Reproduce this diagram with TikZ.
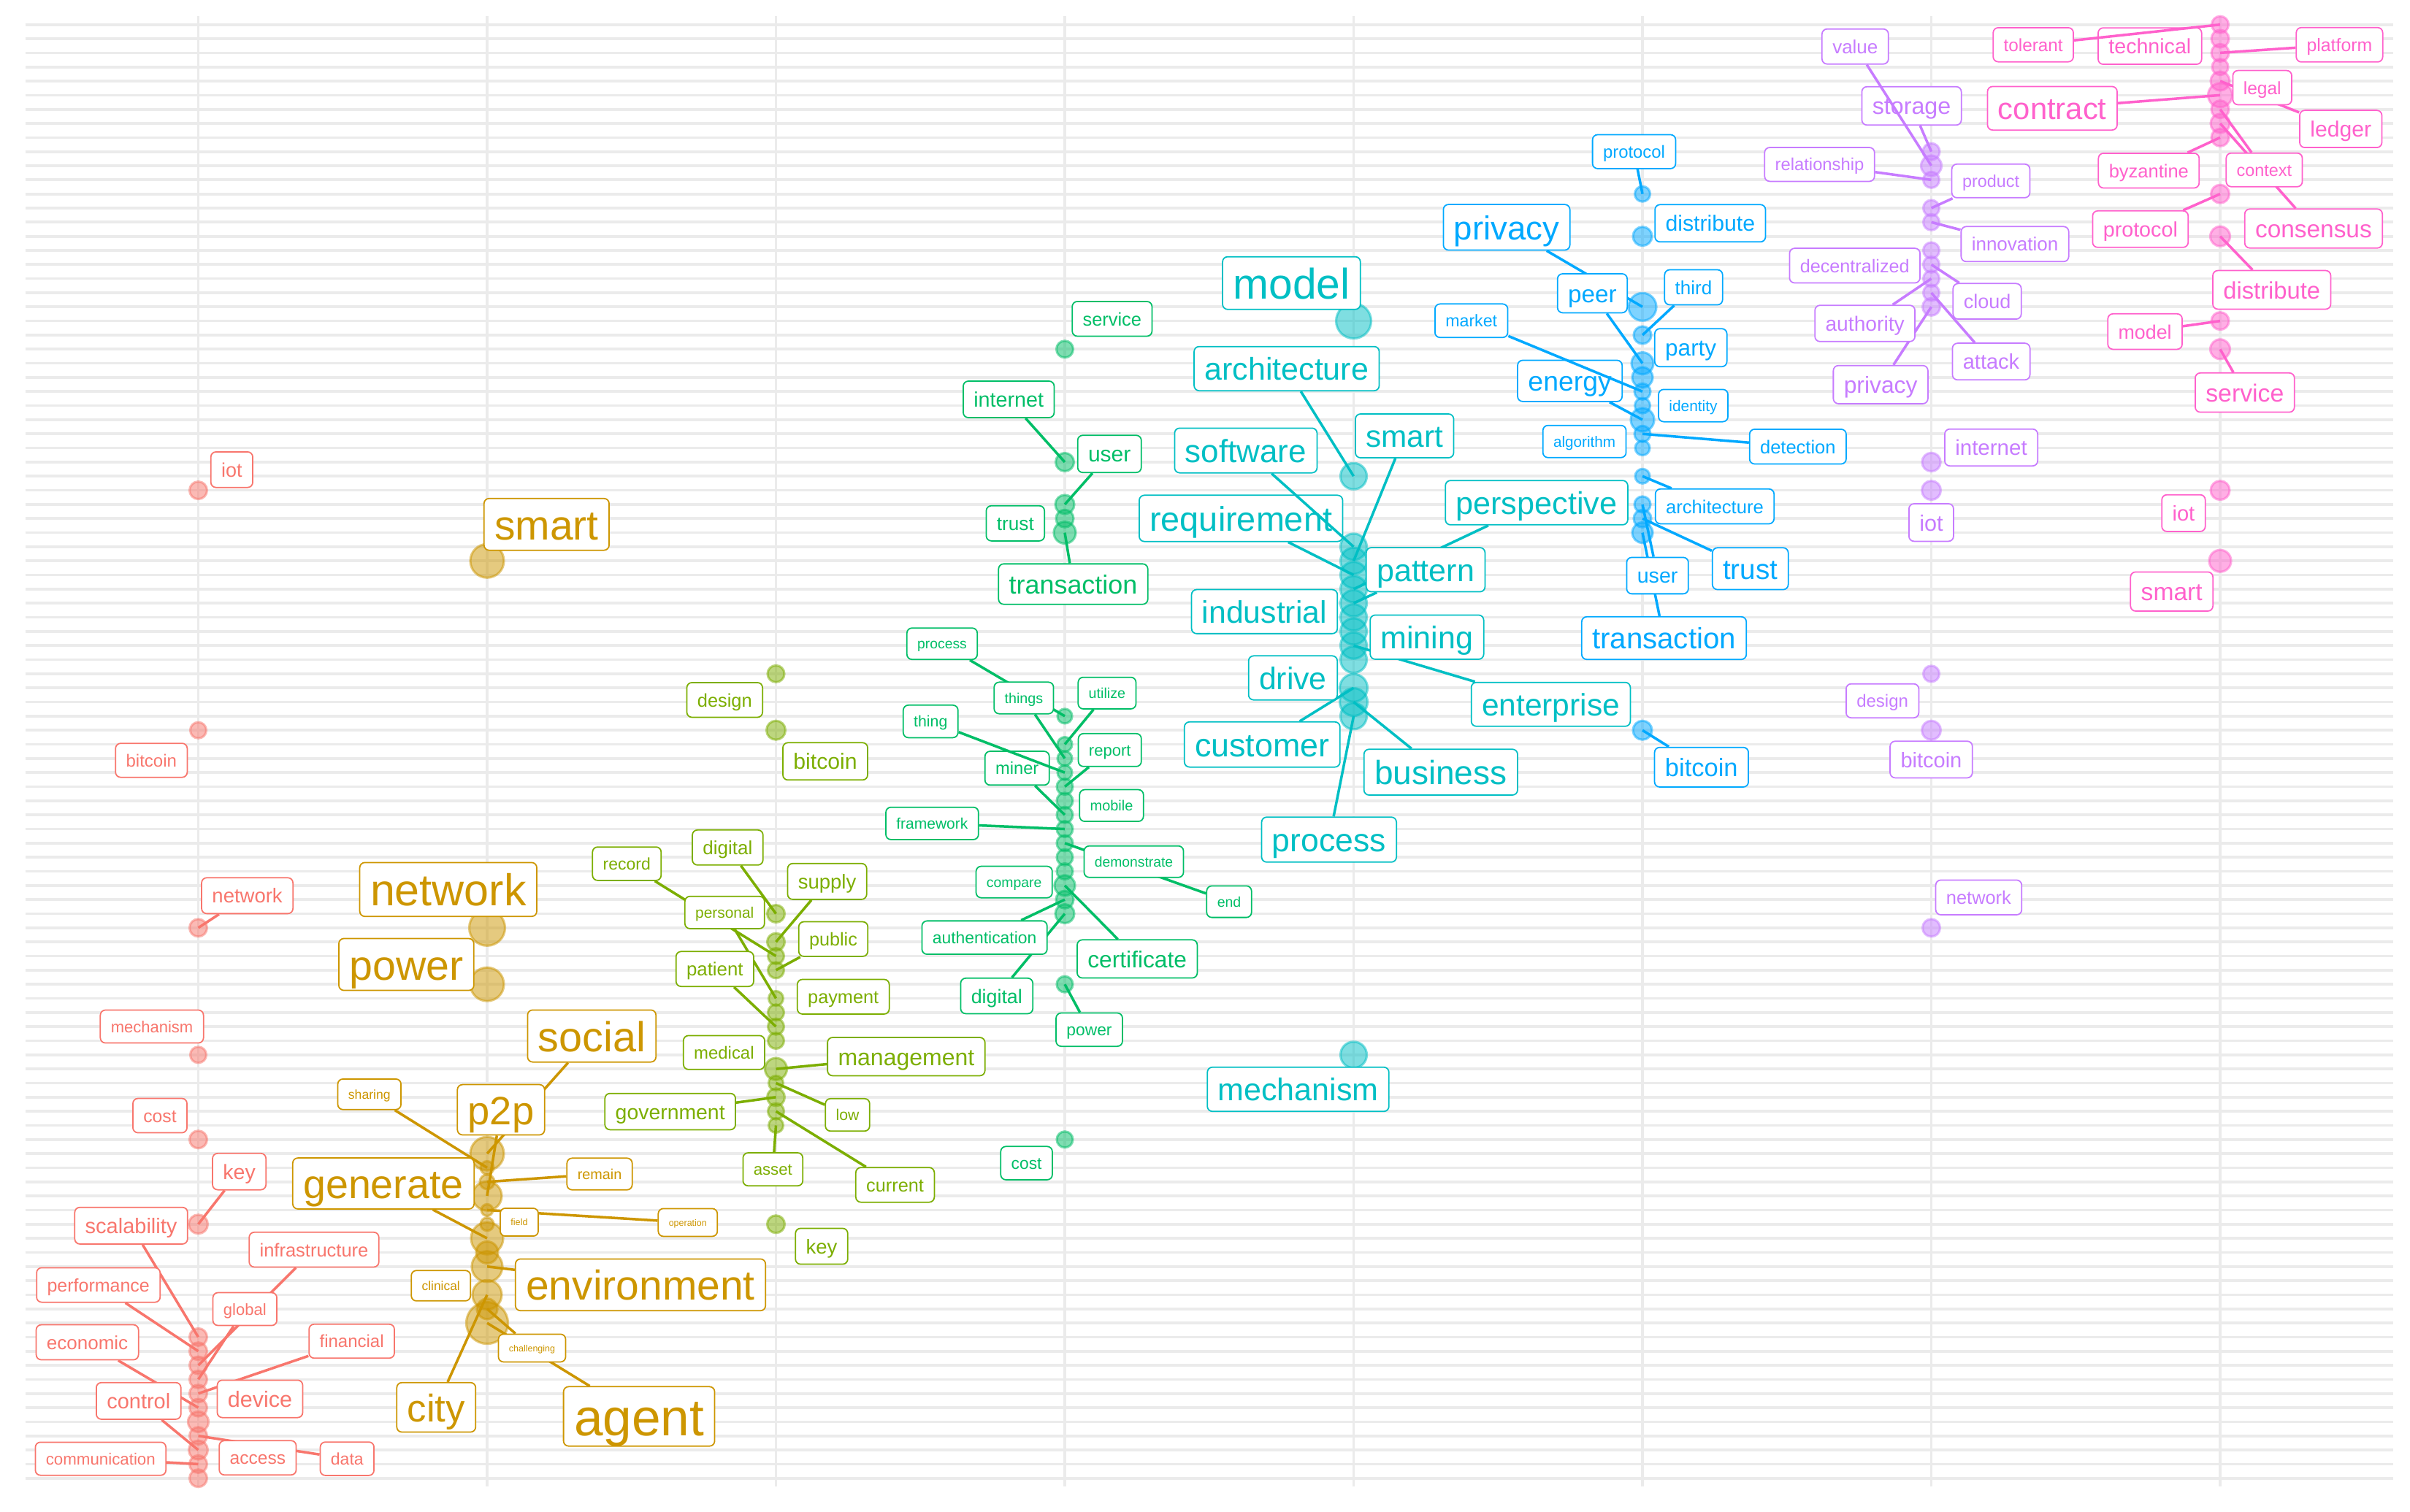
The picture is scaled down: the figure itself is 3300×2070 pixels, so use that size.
\documentclass[tikz,border=0pt]{standalone}
\usepackage{fontspec}
\setmainfont{Liberation Sans}

\definecolor{tRed}{HTML}{F8766D}
\definecolor{tGold}{HTML}{CD9600}
\definecolor{tOlive}{HTML}{7CAE00}
\definecolor{tGreen}{HTML}{00BE67}
\definecolor{tCyan}{HTML}{00BFC4}
\definecolor{tBlue}{HTML}{00A9FF}
\definecolor{tPurple}{HTML}{C77CFF}
\definecolor{tPink}{HTML}{FF61CC}
\definecolor{gridgray}{HTML}{EBEBEB}

\pgfdeclarelayer{background}
\pgfdeclarelayer{dots}
\pgfdeclarelayer{links}
\pgfsetlayers{background,dots,links,main}

% y position of rank k
\newcommand{\ky}[1]{33.7+19.33*#1}

\tikzset{
  gridline/.style={draw=gridgray, line width=1.05pt},
  ptdot/.style 2 args={circle, inner sep=0pt, minimum size=#2*0.2mm, fill=#1, draw=#1,
    fill opacity=0.5, draw opacity=0.5, line width=0.9pt},
  wordbox/.style={draw=#1, text=#1, fill=white, rounded corners=0.7mm, line width=0.5pt,
    inner sep=1.44mm, text depth=0pt},
  wsize/.code={%
    \pgfmathsetmacro\wfs{#1*0.28453}%
    \pgfmathsetmacro\wth{#1*0.0738}%
    \edef\wtmp{\noexpand\pgfkeysalso{font={\noexpand\fontsize{\wfs pt}{\wfs pt}\noexpand\selectfont}, text height=\wth mm}}%
    \wtmp},
  link/.style={draw=#1, line width=1pt},
}

\begin{document}
\begin{tikzpicture}[x=0.1mm, y=-0.1mm]
  \useasboundingbox (0,0) rectangle (3300,2070);
  \begin{pgfonlayer}{background}
    \fill[white] (0,0) rectangle (3300,2070);
    \foreach \k in {0,...,103}
      \draw[gridline] (34.5,{\ky{\k}}) -- (3277,{\ky{\k}});
    \foreach \i in {0,...,7}
      \draw[gridline] ({271.5+395.5*\i},22) -- ({271.5+395.5*\i},2036);
  \end{pgfonlayer}

  %% points
  \begin{pgfonlayer}{dots}
    \foreach \k/\rad in {33/12,50/11,64/12,73/11,79/12,85/13,93/12,94/12,95/12,96/12,97/12,98/12,99/14,100/12,101/13,102/12,103/12}
      \node[ptdot={tRed}{\rad}] (red\k) at (271.5,{\ky{\k}}) {};
    \foreach \k/\rad in {38/23,64/24.5,68/23,80/23,81/9,82/10,83/20,84/8,85/9,86/22,87/15,88/21,90/20,91/14,92/28.5}
      \node[ptdot={tGold}{\rad}] (gold\k) at (667,{\ky{\k}}) {};
    \foreach \k/\rad in {46/11.5,50/13,63/12,65/12,66/11,67/11,69/10,70/11,71/11,72/11,74/15,75/10,76/12,77/11,78/10,85/12}
      \node[ptdot={tOlive}{\rad}] (olive\k) at (1062.5,{\ky{\k}}) {};
    \foreach \k/\rad in {23/11.5,31/12.5,34/13,35/12,36/15,49/10,51/10,52/10,53/10,54/11,55/11,56/11,57/11,58/11,59/11,60/11,61/14,62/12,63/13,68/11,79/11}
      \node[ptdot={tGreen}{\rad}] (green\k) at (1458,{\ky{\k}}) {};
    \foreach \k/\rad in {21/24,32/18,37/18,38/18,39/18,40/18,41/18,42/18,43/18,44/18,45/18,47/19,48/19,49/18,73/18}
      \node[ptdot={tCyan}{\rad}] (cyan\k) at (1853.5,{\ky{\k}}) {};
    \foreach \k/\rad in {12/10.5,15/13,20/19,22/12,24/15,25/14,26/11,27/10.5,28/16,29/11,30/10,32/10,34/11,35/12,36/14,50/13}
      \node[ptdot={tBlue}{\rad}] (blue\k) at (2249,{\ky{\k}}) {};
    \foreach \k/\rad in {9/11.5,10/14,11/11,13/11,14/11,16/11,17/11,18/11,19/11,20/12,31/12.7,33/13,46/11,50/13,64/12}
      \node[ptdot={tPurple}{\rad}] (purple\k) at (2644.5,{\ky{\k}}) {};
    \foreach \k/\rad in {0/11.5,1/12,2/12,3/11,4/13,5/16.5,6/12,7/13,8/12,12/12.5,15/13.5,21/12,23/13.5,33/13,38/15}
      \node[ptdot={tPink}{\rad}] (pink\k) at (3040,{\ky{\k}}) {};
  \end{pgfonlayer}

  %% red labels
  \node[wordbox=tRed, wsize=27] (red-iot) at (317.4,643.3) {iot};
  \node[wordbox=tRed, wsize=24] (red-bitcoin) at (207.3,1041.4) {bitcoin};
  \node[wordbox=tRed, wsize=27.5] (red-network) at (338.6,1226.8) {network};
  \node[wordbox=tRed, wsize=22] (red-mechanism) at (208,1406) {mechanism};
  \node[wordbox=tRed, wsize=24.7] (red-cost) at (219,1528) {cost};
  \node[wordbox=tRed, wsize=28.5] (red-key) at (327.6,1604.7) {key};
  \node[wordbox=tRed, wsize=29] (red-scalability) at (179.6,1678.8) {scalability};
  \node[wordbox=tRed, wsize=25.5] (red-infrastructure) at (430,1711.6) {infrastructure};
  \node[wordbox=tRed, wsize=25] (red-performance) at (134.7,1760) {performance};
  \node[wordbox=tRed, wsize=22] (red-global) at (335.3,1793) {global};
  \node[wordbox=tRed, wsize=26] (red-economic) at (119.6,1838.5) {economic};
  \node[wordbox=tRed, wsize=24] (red-financial) at (481.6,1837) {financial};
  \node[wordbox=tRed, wsize=30.5] (red-device) at (356,1916) {device};
  \node[wordbox=tRed, wsize=29] (red-control) at (189.8,1918.8) {control};
  \node[wordbox=tRed, wsize=22.3] (red-communication) at (137.8,1998) {communication};
  \node[wordbox=tRed, wsize=24.6] (red-access) at (352.9,1996.7) {access};
  \node[wordbox=tRed, wsize=23] (red-data) at (475.3,1998) {data};

  %% gold labels
  \node[wordbox=tGold, wsize=57] (gold-smart) at (748.4,718.2) {smart};
  \node[wordbox=tGold, wsize=61] (gold-network) at (613.8,1218.3) {network};
  \node[wordbox=tGold, wsize=57.3] (gold-power) at (556.4,1321) {power};
  \node[wordbox=tGold, wsize=57.5] (gold-social) at (810.3,1419) {social};
  \node[wordbox=tGold, wsize=17.6] (gold-sharing) at (505.8,1498.8) {sharing};
  \node[wordbox=tGold, wsize=54.3] (gold-p2p) at (686,1520) {p2p};
  \node[wordbox=tGold, wsize=19.8] (gold-remain) at (821,1608) {remain};
  \node[wordbox=tGold, wsize=55.6] (gold-generate) at (525,1621) {generate};
  \node[wordbox=tGold, wsize=12.7] (gold-field) at (711,1674) {field};
  \node[wordbox=tGold, wsize=12.5] (gold-operation) at (941.8,1674.4) {operation};
  \node[wordbox=tGold, wsize=57] (gold-environment) at (877,1759.8) {environment};
  \node[wordbox=tGold, wsize=17.4] (gold-clinical) at (603.7,1761) {clinical};
  \node[wordbox=tGold, wsize=12.5] (gold-challenging) at (728.5,1846.4) {challenging};
  \node[wordbox=tGold, wsize=52.8] (gold-city) at (597.3,1927.6) {city};
  \node[wordbox=tGold, wsize=71.2] (gold-agent) at (875.1,1940) {agent};

  %% olive labels
  \node[wordbox=tOlive, wsize=25.4] (olive-design) at (992.3,958.7) {design};
  \node[wordbox=tOlive, wsize=30.2] (olive-bitcoin) at (1130,1042.8) {bitcoin};
  \node[wordbox=tOlive, wsize=23] (olive-record) at (858.3,1183) {record};
  \node[wordbox=tOlive, wsize=26] (olive-digital) at (996.4,1160.8) {digital};
  \node[wordbox=tOlive, wsize=27.5] (olive-supply) at (1132.6,1207.3) {supply};
  \node[wordbox=tOlive, wsize=20.9] (olive-personal) at (992.3,1249.8) {personal};
  \node[wordbox=tOlive, wsize=25.2] (olive-public) at (1141,1286.2) {public};
  \node[wordbox=tOlive, wsize=25.8] (olive-patient) at (978.8,1327.2) {patient};
  \node[wordbox=tOlive, wsize=25.3] (olive-payment) at (1154.7,1365.2) {payment};
  \node[wordbox=tOlive, wsize=23.9] (olive-medical) at (991.4,1441.6) {medical};
  \node[wordbox=tOlive, wsize=32] (olive-management) at (1240.9,1447.2) {management};
  \node[wordbox=tOlive, wsize=28.4] (olive-government) at (917.7,1522.5) {government};
  \node[wordbox=tOlive, wsize=21.2] (olive-low) at (1160.5,1527) {low};
  \node[wordbox=tOlive, wsize=22.2] (olive-asset) at (1058.3,1601.6) {asset};
  \node[wordbox=tOlive, wsize=25.3] (olive-current) at (1225.6,1622.9) {current};
  \node[wordbox=tOlive, wsize=27.5] (olive-key) at (1125,1707) {key};

  %% green labels
  \node[wordbox=tGreen, wsize=25.4] (green-service) at (1522.8,436.7) {service};
  \node[wordbox=tGreen, wsize=28.7] (green-internet) at (1381.2,547) {internet};
  \node[wordbox=tGreen, wsize=30] (green-user) at (1519.2,621.7) {user};
  \node[wordbox=tGreen, wsize=26.2] (green-trust) at (1390.3,716.8) {trust};
  \node[wordbox=tGreen, wsize=35.9] (green-transaction) at (1469.5,800) {transaction};
  \node[wordbox=tGreen, wsize=19.3] (green-process) at (1290,881.7) {process};
  \node[wordbox=tGreen, wsize=19.7] (green-things) at (1401.9,956) {things};
  \node[wordbox=tGreen, wsize=19.7] (green-utilize) at (1515.9,949.3) {utilize};
  \node[wordbox=tGreen, wsize=21.3] (green-thing) at (1274.3,988.1) {thing};
  \node[wordbox=tGreen, wsize=23.7] (green-miner) at (1392.7,1052.2) {miner};
  \node[wordbox=tGreen, wsize=22] (green-report) at (1519.7,1027.3) {report};
  \node[wordbox=tGreen, wsize=19.9] (green-mobile) at (1522,1103.3) {mobile};
  \node[wordbox=tGreen, wsize=21] (green-framework) at (1276.4,1127.8) {framework};
  \node[wordbox=tGreen, wsize=19.3] (green-demonstrate) at (1552.5,1180.2) {demonstrate};
  \node[wordbox=tGreen, wsize=19.5] (green-end) at (1683,1235) {end};
  \node[wordbox=tGreen, wsize=19.4] (green-compare) at (1388.7,1208.1) {compare};
  \node[wordbox=tGreen, wsize=22.9] (green-authentication) at (1348.1,1284.2) {authentication};
  \node[wordbox=tGreen, wsize=31.7] (green-certificate) at (1557.2,1313.4) {certificate};
  \node[wordbox=tGreen, wsize=26.8] (green-digital) at (1364.8,1364.1) {digital};
  \node[wordbox=tGreen, wsize=22.8] (green-power) at (1491.5,1410.3) {power};
  \node[wordbox=tGreen, wsize=22.8] (green-cost) at (1405.6,1593.1) {cost};

  %% cyan labels
  \node[wordbox=tCyan, wsize=58.7] (cyan-model) at (1768.4,387.7) {model};
  \node[wordbox=tCyan, wsize=43] (cyan-architecture) at (1761.8,504.9) {architecture};
  \node[wordbox=tCyan, wsize=44] (cyan-software) at (1705.9,617) {software};
  \node[wordbox=tCyan, wsize=42.3] (cyan-smart) at (1923.2,597) {smart};
  \node[wordbox=tCyan, wsize=46.8] (cyan-requirement) at (1699.2,710) {requirement};
  \node[wordbox=tCyan, wsize=43.2] (cyan-perspective) at (2104,688.5) {perspective};
  \node[wordbox=tCyan, wsize=43] (cyan-pattern) at (1952.1,780.3) {pattern};
  \node[wordbox=tCyan, wsize=42.7] (cyan-industrial) at (1731.4,837.7) {industrial};
  \node[wordbox=tCyan, wsize=43] (cyan-mining) at (1953.9,872.7) {mining};
  \node[wordbox=tCyan, wsize=42.8] (cyan-drive) at (1770.4,928.5) {drive};
  \node[wordbox=tCyan, wsize=42.5] (cyan-enterprise) at (2123.5,964.7) {enterprise};
  \node[wordbox=tCyan, wsize=44.8] (cyan-customer) at (1728.3,1019.7) {customer};
  \node[wordbox=tCyan, wsize=46] (cyan-business) at (1972.8,1057.6) {business};
  \node[wordbox=tCyan, wsize=44.5] (cyan-process) at (1819.8,1150) {process};
  \node[wordbox=tCyan, wsize=43] (cyan-mechanism) at (1777.5,1492) {mechanism};

  %% blue labels
  \node[wordbox=tBlue, wsize=23.9] (blue-protocol) at (2237.5,207.7) {protocol};
  \node[wordbox=tBlue, wsize=30.2] (blue-distribute) at (2341.8,305.8) {distribute};
  \node[wordbox=tBlue, wsize=45.6] (blue-privacy) at (2063,311.3) {privacy};
  \node[wordbox=tBlue, wsize=33.3] (blue-peer) at (2180.4,401.7) {peer};
  \node[wordbox=tBlue, wsize=26] (blue-third) at (2319,393.5) {third};
  \node[wordbox=tBlue, wsize=31.5] (blue-party) at (2315.2,476.2) {party};
  \node[wordbox=tBlue, wsize=23.2] (blue-market) at (2014.7,439.3) {market};
  \node[wordbox=tBlue, wsize=37.4] (blue-energy) at (2149.6,521.7) {energy};
  \node[wordbox=tBlue, wsize=20.9] (blue-identity) at (2318.5,555.5) {identity};
  \node[wordbox=tBlue, wsize=20.7] (blue-algorithm) at (2169.6,604.7) {algorithm};
  \node[wordbox=tBlue, wsize=25.5] (blue-detection) at (2461.8,611.7) {detection};
  \node[wordbox=tBlue, wsize=25.6] (blue-architecture) at (2347.9,693.6) {architecture};
  \node[wordbox=tBlue, wsize=38.6] (blue-trust) at (2396.7,778.9) {trust};
  \node[wordbox=tBlue, wsize=28.6] (blue-user) at (2269.6,788.4) {user};
  \node[wordbox=tBlue, wsize=40.2] (blue-transaction) at (2278.5,874) {transaction};
  \node[wordbox=tBlue, wsize=34.5] (blue-bitcoin) at (2329.8,1050.8) {bitcoin};

  %% purple labels
  \node[wordbox=tPurple, wsize=26] (purple-value) at (2540.3,63.7) {value};
  \node[wordbox=tPurple, wsize=32.2] (purple-storage) at (2617.5,145) {storage};
  \node[wordbox=tPurple, wsize=23.8] (purple-relationship) at (2491.5,225.2) {relationship};
  \node[wordbox=tPurple, wsize=23.4] (purple-product) at (2726,247.8) {product};
  \node[wordbox=tPurple, wsize=26] (purple-innovation) at (2759,334.3) {innovation};
  \node[wordbox=tPurple, wsize=25.2] (purple-decentralized) at (2539.7,363.8) {decentralized};
  \node[wordbox=tPurple, wsize=27] (purple-cloud) at (2721,412.7) {cloud};
  \node[wordbox=tPurple, wsize=28.2] (purple-authority) at (2553.6,443) {authority};
  \node[wordbox=tPurple, wsize=29] (purple-attack) at (2726.5,495.2) {attack};
  \node[wordbox=tPurple, wsize=31.8] (purple-privacy) at (2575.1,526.8) {privacy};
  \node[wordbox=tPurple, wsize=29.5] (purple-internet) at (2726.5,612.9) {internet};
  \node[wordbox=tPurple, wsize=30.6] (purple-iot) at (2644.4,715.7) {iot};
  \node[wordbox=tPurple, wsize=24] (purple-design) at (2577.6,959.9) {design};
  \node[wordbox=tPurple, wsize=29] (purple-bitcoin) at (2644.4,1040.3) {bitcoin};
  \node[wordbox=tPurple, wsize=25.4] (purple-network) at (2709.4,1229.2) {network};

  %% pink labels
  \node[wordbox=tPink, wsize=24.3] (pink-tolerant) at (2784.1,61.3) {tolerant};
  \node[wordbox=tPink, wsize=28.6] (pink-technical) at (2943.8,63.1) {technical};
  \node[wordbox=tPink, wsize=24.8] (pink-platform) at (3203.4,61.3) {platform};
  \node[wordbox=tPink, wsize=24.5] (pink-legal) at (3097.7,120) {legal};
  \node[wordbox=tPink, wsize=30.1] (pink-ledger) at (3205.2,176.6) {ledger};
  \node[wordbox=tPink, wsize=41.8] (pink-contract) at (2810.2,148.3) {contract};
  \node[wordbox=tPink, wsize=23.4] (pink-context) at (3100.4,232.7) {context};
  \node[wordbox=tPink, wsize=33.4] (pink-consensus) at (3167.9,313) {consensus};
  \node[wordbox=tPink, wsize=25.5] (pink-byzantine) at (2942.3,233.7) {byzantine};
  \node[wordbox=tPink, wsize=28.7] (pink-protocol) at (2930.8,313.8) {protocol};
  \node[wordbox=tPink, wsize=32.7] (pink-distribute) at (3110.7,397) {distribute};
  \node[wordbox=tPink, wsize=26.8] (pink-model) at (2937.1,454.1) {model};
  \node[wordbox=tPink, wsize=33.8] (pink-service) at (3073.8,537.7) {service};
  \node[wordbox=tPink, wsize=29.1] (pink-iot) at (2989.9,702.8) {iot};
  \node[wordbox=tPink, wsize=33.6] (pink-smart) at (2973.7,810.2) {smart};

  %% segments under the labels
  \begin{pgfonlayer}{links}
    \draw[link=tRed] (red64.center) -- (red-network);
    \draw[link=tRed] (red85.center) -- (red-key);
    \draw[link=tRed] (red93.center) -- (red-scalability);
    \draw[link=tRed] (red95.center) -- (red-infrastructure);
    \draw[link=tRed] (red94.center) -- (red-performance);
    \draw[link=tRed] (red96.center) -- (red-global);
    \draw[link=tRed] (red98.center) -- (red-economic);
    \draw[link=tRed] (red97.center) -- (red-financial);
    \draw[link=tRed] (red101.center) -- (red-control);
    \draw[link=tRed] (red102.center) -- (red-communication);
    \draw[link=tRed] (red100.center) -- (red-data);

    \draw[link=tGold] (gold80.center) -- (gold-social);
    \draw[link=tGold] (gold81.center) -- (gold-sharing);
    \draw[link=tGold] (gold83.center) -- (gold-p2p);
    \draw[link=tGold] (gold82.center) -- (gold-remain);
    \draw[link=tGold] (gold86.center) -- (gold-generate);
    \draw[link=tGold] (gold84.center) -- (gold-operation);
    \draw[link=tGold] (gold88.center) -- (gold-environment);
    \draw[link=tGold] (gold91.center) -- (gold-challenging);
    \draw[link=tGold] (gold90.center) -- (gold-city);
    \draw[link=tGold] (gold92.center) -- (gold-agent);

    \draw[link=tOlive] (olive66.center) -- (olive-record);
    \draw[link=tOlive] (olive63.center) -- (olive-digital);
    \draw[link=tOlive] (olive65.center) -- (olive-supply);
    \draw[link=tOlive] (olive69.center) -- (olive-personal);
    \draw[link=tOlive] (olive67.center) -- (olive-public);
    \draw[link=tOlive] (olive71.center) -- (olive-patient);
    \draw[link=tOlive] (olive74.center) -- (olive-management);
    \draw[link=tOlive] (olive76.center) -- (olive-government);
    \draw[link=tOlive] (olive75.center) -- (olive-low);
    \draw[link=tOlive] (olive78.center) -- (olive-asset);
    \draw[link=tOlive] (olive77.center) -- (olive-current);

    \draw[link=tGreen] (green31.center) -- (green-internet);
    \draw[link=tGreen] (green34.center) -- (green-user);
    \draw[link=tGreen] (green36.center) -- (green-transaction);
    \draw[link=tGreen] (green49.center) -- (green-process);
    \draw[link=tGreen] (green52.center) -- (green-things);
    \draw[link=tGreen] (green51.center) -- (green-utilize);
    \draw[link=tGreen] (green56.center) -- (green-miner);
    \draw[link=tGreen] (green54.center) -- (green-report);
    \draw[link=tGreen] (green57.center) -- (green-framework);
    \draw[link=tGreen] (green58.center) -- (green-end);
    \draw[link=tGreen] (green62.center) -- (green-authentication);
    \draw[link=tGreen] (green61.center) -- (green-certificate);
    \draw[link=tGreen] (green63.center) -- (green-digital);
    \draw[link=tGreen] (green68.center) -- (green-power);

    \draw[link=tCyan] (cyan32.center) -- (cyan-architecture);
    \draw[link=tCyan] (cyan38.center) -- (cyan-smart);
    \draw[link=tCyan] (cyan39.center) -- (cyan-requirement);
    \draw[link=tCyan] (cyan40.center) -- (cyan-perspective);
    \draw[link=tCyan] (cyan41.center) -- (cyan-pattern);
    \draw[link=tCyan] (cyan44.center) -- (cyan-enterprise);
    \draw[link=tCyan] (cyan47.center) -- (cyan-customer);
    \draw[link=tCyan] (cyan48.center) -- (cyan-business);
    \draw[link=tCyan] (cyan49.center) -- (cyan-process);

    \draw[link=tBlue] (blue12.center) -- (blue-protocol);
    \draw[link=tBlue] (blue20.center) -- (blue-privacy);
    \draw[link=tBlue] (blue24.center) -- (blue-peer);
    \draw[link=tBlue] (blue22.center) -- (blue-third);
    \draw[link=tBlue] (blue28.center) -- (blue-energy);
    \draw[link=tBlue] (blue29.center) -- (blue-detection);
    \draw[link=tBlue] (blue32.center) -- (blue-architecture);
    \draw[link=tBlue] (blue35.center) -- (blue-trust);
    \draw[link=tBlue] (blue34.center) -- (blue-user);
    \draw[link=tBlue] (blue36.center) -- (blue-transaction);
    \draw[link=tBlue] (blue50.center) -- (blue-bitcoin);

    \draw[link=tPurple] (purple9.center) -- (purple-storage);
    \draw[link=tPurple] (purple11.center) -- (purple-relationship);
    \draw[link=tPurple] (purple13.center) -- (purple-product);
    \draw[link=tPurple] (purple14.center) -- (purple-innovation);
    \draw[link=tPurple] (purple17.center) -- (purple-cloud);
    \draw[link=tPurple] (purple18.center) -- (purple-authority);
    \draw[link=tPurple] (purple19.center) -- (purple-attack);
    \draw[link=tPurple] (purple20.center) -- (purple-privacy);

    \draw[link=tPink] (pink2.center) -- (pink-platform);
    \draw[link=tPink] (pink4.center) -- (pink-ledger);
    \draw[link=tPink] (pink5.center) -- (pink-contract);
    \draw[link=tPink] (pink6.center) -- (pink-context);
    \draw[link=tPink] (pink7.center) -- (pink-consensus);
    \draw[link=tPink] (pink8.center) -- (pink-byzantine);
    \draw[link=tPink] (pink12.center) -- (pink-protocol);
    \draw[link=tPink] (pink15.center) -- (pink-distribute);
    \draw[link=tPink] (pink21.center) -- (pink-model);
    \draw[link=tPink] (pink23.center) -- (pink-service);
  \end{pgfonlayer}

  %% segments that cross over other labels
  \draw[link=tCyan] (cyan37.center) -- (cyan-software);
  \draw[link=tGreen] (green53.center) -- (green-thing);
  \draw[link=tBlue] (blue26.center) -- (blue-market);
  \draw[link=tPurple] (purple10.center) -- (purple-value);
  \draw[link=tPink] (pink0.center) -- (pink-tolerant);
\end{tikzpicture}
\end{document}
